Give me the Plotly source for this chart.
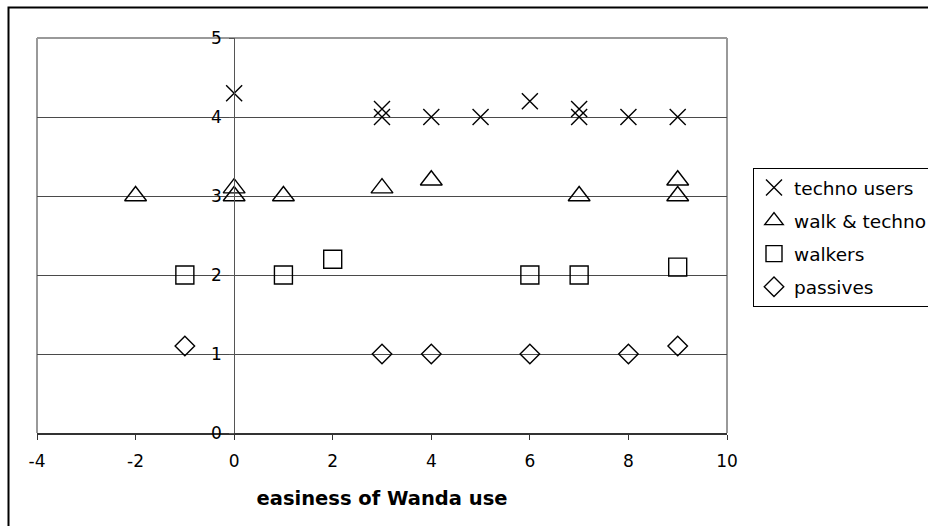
import plotly.graph_objects as go

# ---- data ----
techno_x = [0, 3, 3, 4, 5, 6, 7, 7, 8, 9]
techno_y = [4.3, 4.0, 4.1, 4.0, 4.0, 4.2, 4.0, 4.1, 4.0, 4.0]
walk_techno_x = [-2, 0, 0, 1, 3, 4, 7, 9, 9]
walk_techno_y = [3.0, 3.0, 3.1, 3.0, 3.1, 3.2, 3.0, 3.2, 3.0]
walkers_x = [-1, 1, 2, 6, 7, 9]
walkers_y = [2.0, 2.0, 2.2, 2.0, 2.0, 2.1]
passives_x = [-1, 3, 4, 6, 8, 9]
passives_y = [1.1, 1.0, 1.0, 1.0, 1.0, 1.1]

x_ticks = [-4, -2, 0, 2, 4, 6, 8, 10]
x_tick_labels = ["-4", "-2", "0", "2", "4", "6", "8", "10"]
y_ticks = [0, 1, 2, 3, 4, 5]

FONT = "DejaVu Sans"
W, H = 928, 526
ML, MR, MT, MB = 37, 201, 38, 93

fig = go.Figure()

def add(name, xs, ys, symbol, size, grp):
    fig.add_trace(go.Scatter(
        x=xs, y=ys, mode="markers", name=name, legendgroup=grp,
        marker=dict(symbol=symbol, size=size, color="black",
                    line=dict(color="black", width=1.4)),
    ))

add("techno users", techno_x, techno_y, "x-thin-open", 16, "g1")
add("walk &amp; techno", walk_techno_x, walk_techno_y, "triangle-up-open", 19, "g2")
add("walkers", walkers_x, walkers_y, "square-open", 18, "g3")
add("passives", passives_x, passives_y, "diamond-open", 15, "g4")

xmin, xmax = -4, 10
ypos = (0 - xmin) / (xmax - xmin)

fig.update_layout(
    width=W, height=H,
    margin=dict(l=ML, r=MR, t=MT, b=MB, autoexpand=False),
    paper_bgcolor="white", plot_bgcolor="white",
    font=dict(family=FONT, color="black"),
    showlegend=True,
    legend=dict(
        x=(753 - ML) / (W - ML - MR), y=(H - MB - 168) / (H - MT - MB),
        xanchor="left", yanchor="top",
        bgcolor="white", bordercolor="black", borderwidth=1,
        font=dict(size=18.5, family=FONT, color="black"),
        traceorder="grouped", tracegroupgap=6,
    ),
    xaxis=dict(
        range=[xmin, xmax], tickvals=x_ticks, ticktext=x_tick_labels,
        showgrid=False, zeroline=False,
        showline=True, linecolor="#333", linewidth=1.5,
        ticks="outside", ticklen=5, tickcolor="#333", tickwidth=1,
        tickfont=dict(size=17, family=FONT), ticklabelstandoff=7,
        title=dict(text="<b>easiness of Wanda use</b>", standoff=21,
                   font=dict(size=19.5, family=FONT)),
    ),
    yaxis=dict(
        range=[0, 5], tickvals=y_ticks, showgrid=True, gridcolor="#4a4a4a",
        gridwidth=1.2, zeroline=False, anchor="free", position=ypos,
        showline=True, linecolor="#555", linewidth=1,
        ticks="outside", ticklen=5, tickcolor="#555",
        tickfont=dict(size=17, family=FONT), ticklabelstandoff=4,
    ),
)

# plot-area frame (left, top, right) in gray
for (x0, y0, x1, y1) in [(0, 0, 0, 1), (0, 1, 1, 1), (1, 0, 1, 1)]:
    fig.add_shape(type="line", xref="x domain", yref="y domain",
                  x0=x0, y0=y0, x1=x1, y1=y1,
                  line=dict(color="#999", width=2), layer="below")

# outer chart border (only left and top visible)
pw, ph = W - ML - MR, H - MT - MB
fig.add_shape(type="rect", xref="paper", yref="paper",
              x0=(8.5 - ML) / pw, x1=2.0,
              y0=-1.0, y1=(H - MB - 7.5) / ph,
              line=dict(color="black", width=2), fillcolor="rgba(0,0,0,0)",
              layer="below")

fig.write_html("out.html")
